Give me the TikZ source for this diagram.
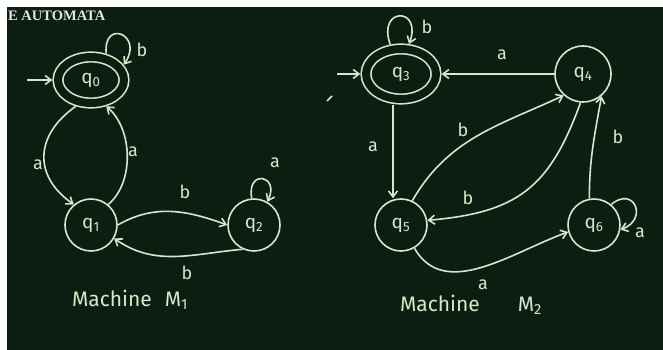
\documentclass[tikz,border=0pt]{standalone}
\usepackage{fontspec}
\setmainfont{Liberation Serif}
\setsansfont{Fira Sans}
\usepackage{xcolor}
\usepackage{tikz}
\usetikzlibrary{arrows.meta,positioning,shapes.geometric}
\definecolor{board}{RGB}{12,30,18}
\definecolor{chalk}{RGB}{214,232,200}
\definecolor{paper}{RGB}{228,228,222}
\tikzset{
  statebox/.style={circle, draw=chalk, line width=1.6pt, minimum size=52pt,
    inner sep=0pt, text=chalk, font=\sffamily\fontsize{19}{19}\selectfont},
  acceptbox/.style={ellipse, draw=chalk, line width=1.6pt, double=board,
    double distance=8pt, inner sep=0pt, outer sep=5.6pt, text=chalk,
    font=\sffamily\fontsize{19}{19}\selectfont},
  flow/.style={-{Straight Barb[length=6pt,width=9pt]}, draw=chalk, line width=1.6pt},
  sym/.style={text=chalk, inner sep=0pt, font=\sffamily\fontsize{18}{18}\selectfont},
  machinelabel/.style={text=chalk, inner sep=0pt, font=\sffamily\fontsize{21}{21}\selectfont}
}

\begin{document}
\begin{tikzpicture}[x=1pt, y=1pt, on grid]
\fill[white] (0,0) rectangle (663,350);
\fill[board] (7,0) rectangle (663,343);
\useasboundingbox (0,0) rectangle (663,350);
\node[anchor=west, text=paper, inner sep=0pt, font=\rmfamily\bfseries\fontsize{14.5}{14.5}\selectfont] (title) at (8,334) {E AUTOMATA};

\node[acceptbox, minimum width=66pt, minimum height=46pt] (q0) at (91,270) {q\textsubscript{0}};
\node[statebox, below=145pt of q0] (q1) {q\textsubscript{1}};
\node[statebox, right=163pt of q1] (q2) {q\textsubscript{2}};
\coordinate[left=64pt of q0] (s0);

\draw[flow] (s0) -- (q0);
\draw[flow] (q0.240) to[out=215, in=145, looseness=1.3] (q1.130);
\draw[flow] (q1.50) to[out=40, in=-40, looseness=0.9] (q0.300);
\draw[flow] (q1.east) to[out=30, in=160] (q2.west);
\draw[flow] (q2.245) to[out=185, in=-35] (q1.-30);
\draw[flow] (q0.60) to[out=95, in=55, distance=36pt] (q0.25);
\draw[flow] (q2.95) to[out=100, in=65, distance=30pt] (q2.60);

\node[sym] (a01) at (38,185) {a};
\node[sym] (a10) at (133,198) {a};
\node[sym] (b12) at (185,158) {b};
\node[sym] (b21) at (187,77) {b};
\node[sym] (b00) at (142,300) {b};
\node[sym] (a22) at (275,187) {a};
\node[machinelabel] (m1) at (130,50) {Machine\hspace{13pt}M\textsubscript{1}};

\node[acceptbox, minimum width=70pt, minimum height=50pt] (q3) at (401,276) {q\textsubscript{3}};
\node[statebox, minimum size=56pt, right=182pt of q3] (q4) {q\textsubscript{4}};
\node[statebox, below=151pt of q3] (q5) {q\textsubscript{5}};
\node[statebox, right=193pt of q5] (q6) {q\textsubscript{6}};
\coordinate[left=64pt of q3] (s3);

\draw[flow] (s3) -- (q3);
\draw[flow] (q4) -- (q3);
\draw[flow] ([xshift=-8pt]q3.south) -- ([xshift=-8pt]q5.north);
\draw[flow] (q5.65) to[out=60, in=205] (q4.228);
\draw[flow] (q4.265) to[out=250, in=5, looseness=1.2] (q5.10);
\draw[flow] (q6.100) to[out=90, in=260] (q4.310);
\draw[flow] (q5.300) to[out=300, in=200] (q6.195);
\draw[flow] (q3.110) to[out=110, in=70, distance=40pt] (q3.75);
\draw[flow] (q6.50) to[out=40, in=20, distance=30pt] (q6.-10);
\draw[chalk, line width=1.6pt] (327,249) -- (332,254);

\node[sym] (b33) at (427,323) {b};
\node[sym] (a43) at (502,295) {a};
\node[sym] (a35) at (373,203) {a};
\node[sym] (b54) at (463,220) {b};
\node[sym] (b45) at (468,152) {b};
\node[sym] (b64) at (618,213) {b};
\node[sym] (a66) at (640,117) {a};
\node[sym] (a56) at (483,65) {a};
\node[machinelabel] (m2) at (471,45) {Machine\hspace{38pt}M\textsubscript{2}};
\end{tikzpicture}
\end{document}
